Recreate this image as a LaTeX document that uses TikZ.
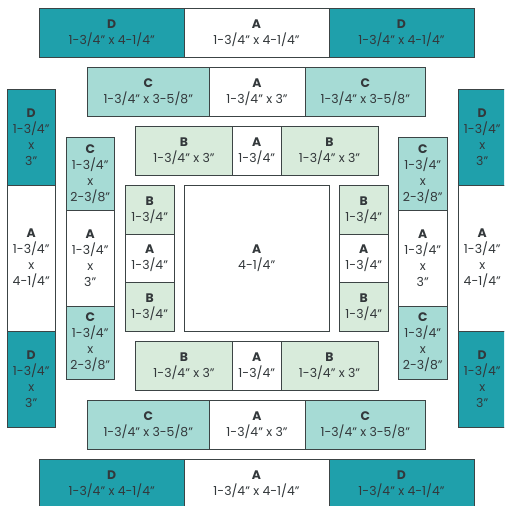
\documentclass[tikz,border=0pt]{standalone}
\usepackage{fontspec}
\setmainfont{Poppins}[Ligatures=NoCommon]
\definecolor{cA}{HTML}{FFFFFF}
\definecolor{cB}{HTML}{D8EBDB}
\definecolor{cC}{HTML}{A6DBD5}
\definecolor{cD}{HTML}{1FA0AB}
\definecolor{ink}{HTML}{33383B}
\definecolor{edge}{HTML}{3C4445}
\tikzset{
 piece/.style={draw=edge,line width=0.9pt,anchor=north west,inner sep=0pt,outer sep=0pt,align=center,text=ink,
   font=\fontsize{12.4}{16}\selectfont},
 pA/.style={piece,fill=cA},pB/.style={piece,fill=cB},pC/.style={piece,fill=cC},pD/.style={piece,fill=cD}}
\newcommand{\pc}[8]{% name, style, x0,y0,x1,y1, letter, text
 \pgfmathsetlengthmacro{\pw}{#5-#3}\pgfmathsetlengthmacro{\ph}{#6-#4}
 \node[#2,minimum width=\pw,minimum height=\ph] (#1) at (#3,#4) {{\fontsize{12.4}{16}\selectfont\bfseries #7}\\#8};}
\newcommand{\Q}{"}
\begin{document}
\begin{tikzpicture}[x=1pt,y=-1pt]
\useasboundingbox (0,0) rectangle (504,506);
\clip (0,0) rectangle (504,506);
% top rows
\pc{t1}{pD}{39.5}{8.5}{184}{57}{D}{1-3/4\Q{} x 4-1/4\Q}
\pc{t2}{pA}{184}{8.5}{329}{57}{A}{1-3/4\Q{} x 4-1/4\Q}
\pc{t3}{pD}{329}{8.5}{474}{57}{D}{1-3/4\Q{} x 4-1/4\Q}
\pc{u1}{pC}{87.5}{67.5}{209}{116}{C}{1-3/4\Q{} x 3-5/8\Q}
\pc{u2}{pA}{209}{67.5}{305}{116}{A}{1-3/4\Q{} x 3\Q}
\pc{u3}{pC}{305}{67.5}{425.5}{116}{C}{1-3/4\Q{} x 3-5/8\Q}
\pc{v1}{pB}{135.5}{126.5}{232.5}{175}{B}{1-3/4\Q{} x 3\Q}
\pc{v2}{pA}{232.5}{126.5}{281}{175}{A}{1-3/4\Q}
\pc{v3}{pB}{281}{126.5}{378}{175}{B}{1-3/4\Q{} x 3\Q}
% bottom rows
\pc{w1}{pB}{135.5}{341.5}{232.5}{390}{B}{1-3/4\Q{} x 3\Q}
\pc{w2}{pA}{232.5}{341.5}{281}{390}{A}{1-3/4\Q}
\pc{w3}{pB}{281}{341.5}{378}{390}{B}{1-3/4\Q{} x 3\Q}
\pc{x1}{pC}{87.5}{400.5}{209}{449}{C}{1-3/4\Q{} x 3-5/8\Q}
\pc{x2}{pA}{209}{400.5}{305}{449}{A}{1-3/4\Q{} x 3\Q}
\pc{x3}{pC}{305}{400.5}{425.5}{449}{C}{1-3/4\Q{} x 3-5/8\Q}
\pc{y1}{pD}{39.5}{459.5}{184}{508}{D}{1-3/4\Q{} x 4-1/4\Q}
\pc{y2}{pA}{184}{459.5}{329}{508}{A}{1-3/4\Q{} x 4-1/4\Q}
\pc{y3}{pD}{329}{459.5}{474}{508}{D}{1-3/4\Q{} x 4-1/4\Q}
% outer columns
\pc{l1}{pD}{7}{89}{55.5}{185.5}{D}{1-3/4\Q\\x\\3\Q}
\pc{l2}{pA}{7}{185.5}{55.5}{331}{A}{1-3/4\Q\\x\\4-1/4\Q}
\pc{l3}{pD}{7}{331}{55.5}{427.5}{D}{1-3/4\Q\\x\\3\Q}
\pc{r1}{pD}{458}{89}{506.5}{185.5}{D}{1-3/4\Q\\x\\3\Q}
\pc{r2}{pA}{458}{185.5}{506.5}{331}{A}{1-3/4\Q\\x\\4-1/4\Q}
\pc{r3}{pD}{458}{331}{506.5}{427.5}{D}{1-3/4\Q\\x\\3\Q}
% second columns
\pc{m1}{pC}{66}{137.5}{114.5}{210}{C}{1-3/4\Q\\x\\2-3/8\Q}
\pc{m2}{pA}{66}{210}{114.5}{306}{A}{1-3/4\Q\\x\\3\Q}
\pc{m3}{pC}{66}{306}{114.5}{379}{C}{1-3/4\Q\\x\\2-3/8\Q}
\pc{n1}{pC}{398.5}{137.5}{447}{210}{C}{1-3/4\Q\\x\\2-3/8\Q}
\pc{n2}{pA}{398.5}{210}{447}{306}{A}{1-3/4\Q\\x\\3\Q}
\pc{n3}{pC}{398.5}{306}{447}{379}{C}{1-3/4\Q\\x\\2-3/8\Q}
% inner columns
\pc{o1}{pB}{125.5}{185.5}{174}{234}{B}{1-3/4\Q}
\pc{o2}{pA}{125.5}{234}{174}{282.5}{A}{1-3/4\Q}
\pc{o3}{pB}{125.5}{282.5}{174}{331}{B}{1-3/4\Q}
\pc{p1}{pB}{339.5}{185.5}{388}{234}{B}{1-3/4\Q}
\pc{p2}{pA}{339.5}{234}{388}{282.5}{A}{1-3/4\Q}
\pc{p3}{pB}{339.5}{282.5}{388}{331}{B}{1-3/4\Q}
% centre
\pc{c0}{pA}{184}{185.5}{329.5}{331}{A}{4-1/4\Q}
\end{tikzpicture}
\end{document}
